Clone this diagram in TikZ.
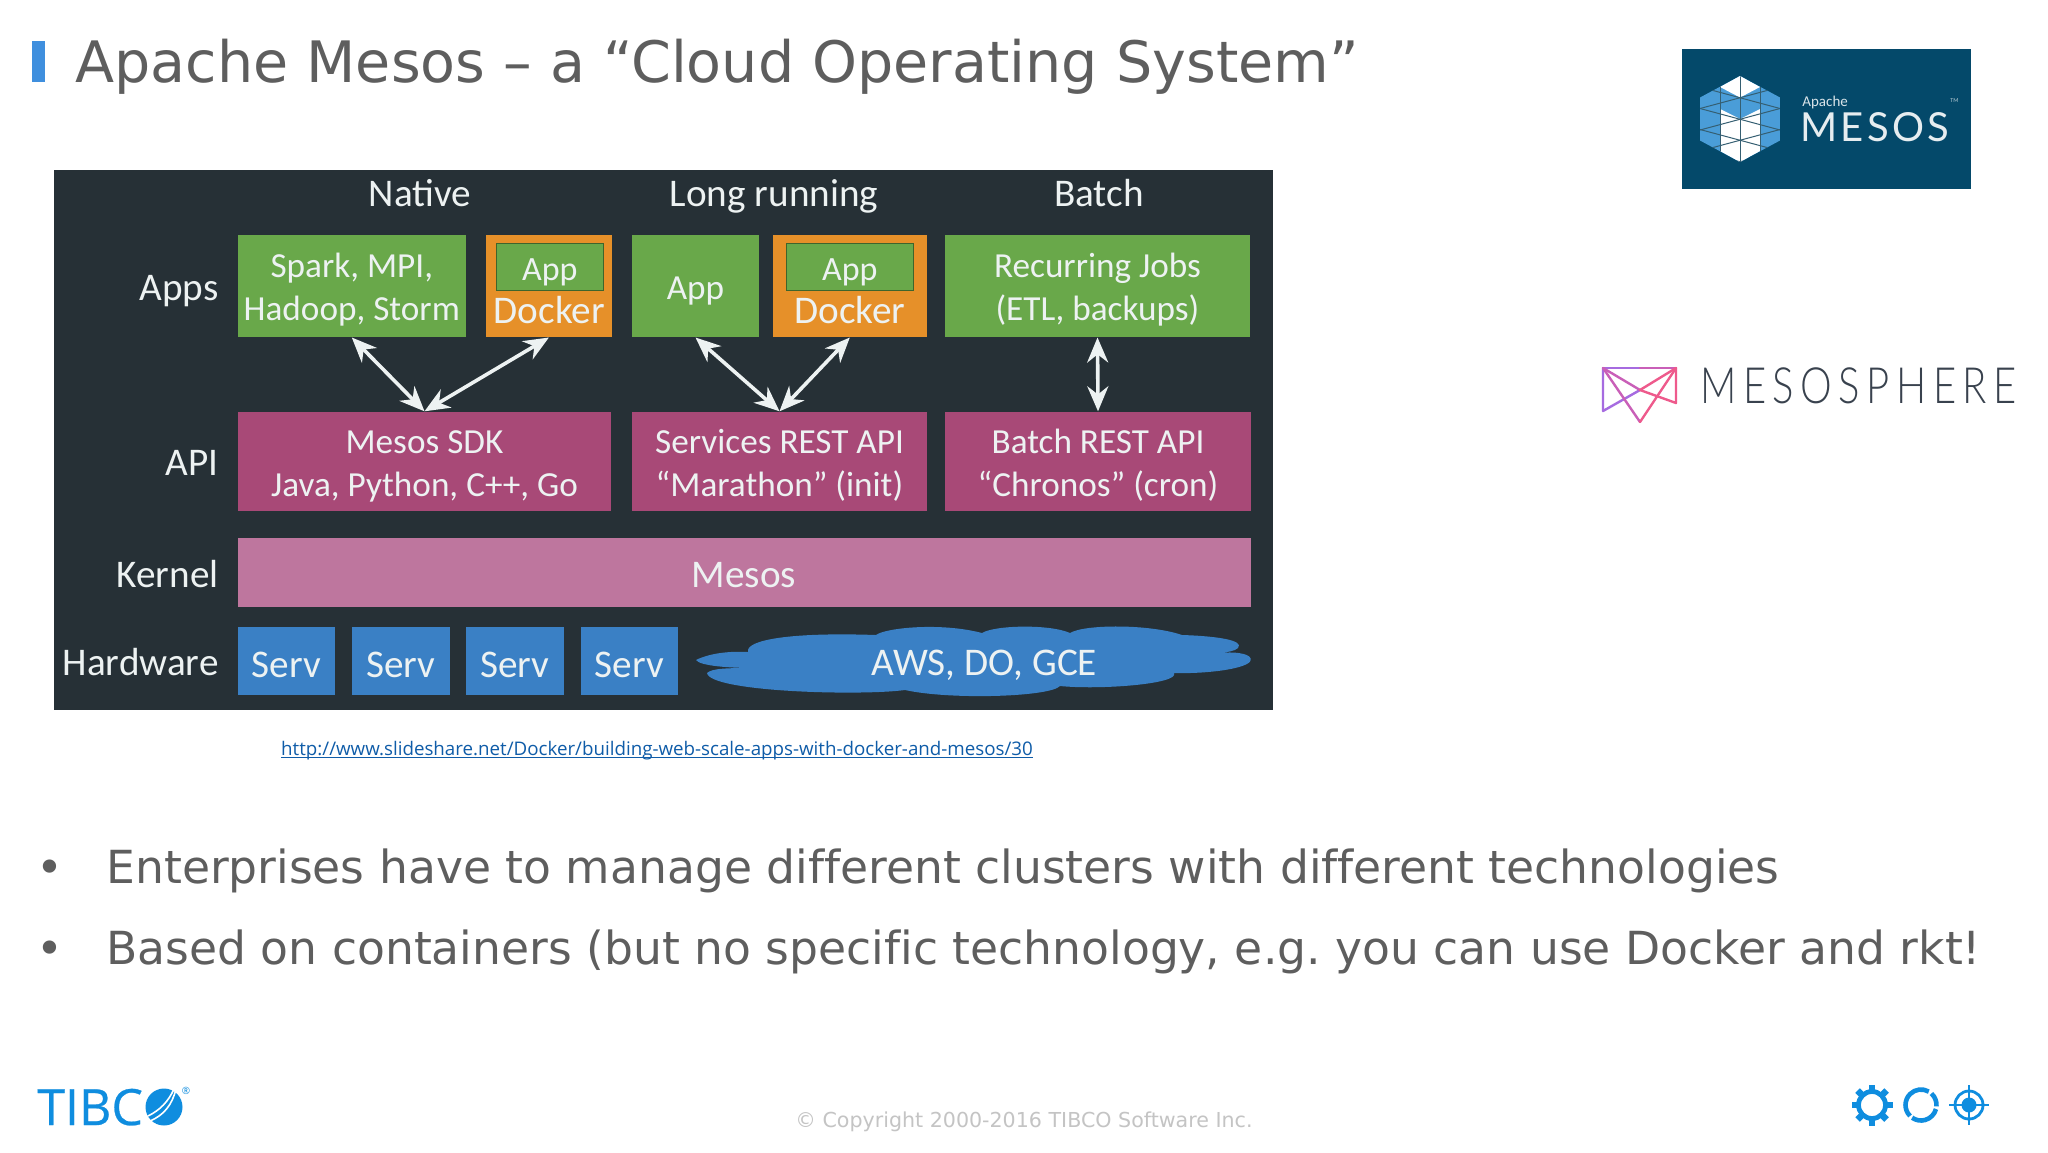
\documentclass[tikz,border=0pt]{standalone}
\usepackage{fontspec}
\setmainfont{Carlito}
\newfontfamily\slidefont{DejaVu Sans}[Ligatures=NoCommon]
\newfontfamily\linkfont{Open Sans}
\newfontfamily\tibcofont{Open Sans}[FakeBold=0.5]
\newfontfamily\logofont{Lato}[LetterSpace=8]
\newfontfamily\mesofont{Lato}[UprightFont={* Light},LetterSpace=13,FakeStretch=0.8]
\usetikzlibrary{arrows.meta}

\definecolor{panel}{HTML}{263036}
\definecolor{appgreen}{HTML}{69A84A}
\definecolor{dockorange}{HTML}{E69029}
\definecolor{apipink}{HTML}{A84977}
\definecolor{kernelpink}{HTML}{BE769E}
\definecolor{servblue}{HTML}{3A80C5}
\definecolor{boxtext}{HTML}{EDF2F2}
\definecolor{slidegray}{HTML}{5E5E5E}
\definecolor{tibcoblue}{HTML}{0F8DDF}
\definecolor{barblue}{HTML}{3F8FDE}
\definecolor{linkblue}{HTML}{0F5CA8}
\definecolor{logobg}{HTML}{04496A}
\definecolor{hexblue}{HTML}{4A9DD8}
\definecolor{meshleft}{HTML}{A66BE0}
\definecolor{meshmid}{HTML}{C95FB8}
\definecolor{meshright}{HTML}{EE5A8C}
\definecolor{meshtext}{HTML}{39424E}

\newcommand{\boxstrut}{\rule{0pt}{16.3pt}}

\begin{document}
\begin{tikzpicture}[
  x=0.5pt, y=-0.5pt,
  box/.style={inner sep=0pt, text=boxtext, align=center, font=\fontsize{17.6}{21.5}\selectfont},
  bigbox/.style={box, font=\fontsize{19.6}{21.5}\selectfont},
  appbox/.style={box, fill=appgreen, minimum height=51.2pt},
  dockbox/.style={box, fill=dockorange, minimum height=51.2pt},
  innerbox/.style={box, fill=appgreen, draw=appgreen!60!black, line width=0.4pt, minimum height=23.5pt, font=\fontsize{17}{21}\selectfont},
  apibox/.style={box, fill=apipink, minimum height=49.6pt},
  servbox/.style={bigbox, fill=servblue, minimum width=48.8pt, minimum height=34pt},
  rowlabel/.style={anchor=base east, inner sep=0pt, text=boxtext, font=\fontsize{19.6}{24}\selectfont},
  colhead/.style={anchor=base, inner sep=0pt, text=boxtext, font=\fontsize{19.6}{24}\selectfont},
  bulletline/.style={anchor=base west, inner sep=0pt, text=slidegray, font=\slidefont\fontsize{22.8}{28}\selectfont},
  updown/.style={<->, >={Stealth[length=12.5pt, width=10.5pt]}, draw=boxtext, line width=1.8pt},
  meshline/.style={line width=1.2pt, line cap=round, line join=round}
]

\useasboundingbox (0,0) rectangle (2048,1152);
\fill[white] (0,0) rectangle (2048,1152);

%% TITLE
\fill[barblue] (32,41) rectangle (44.5,82);
\node[anchor=base west, inner sep=0pt, text=slidegray, font=\slidefont\fontsize{28.56}{36}\selectfont] (title) at (75,82) {Apache Mesos – a “Cloud Operating System”};

%% PANEL
\fill[panel] (53.5,170) rectangle (1273,710);

% Column heads
\node[colhead] (native) at (420,206.5) {Native};
\node[colhead] (longrun) at (774,206.5) {Long running};
\node[colhead] (batchhead) at (1099,206.5) {Batch};

% Row labels
\node[rowlabel] (apps) at (219,300) {Apps};
\node[rowlabel] (api) at (219,475) {API};
\node[rowlabel] (kernel) at (219,587) {Kernel};
\node[rowlabel] (hardware) at (219,675) {Hardware};

% Apps
\node[appbox, minimum width=114.2pt] (spark) at (351.8,285.9) {\boxstrut Spark, MPI,\\Hadoop, Storm};
\node[dockbox, minimum width=63.2pt] (dockone) at (548.9,285.9) {};
\node[innerbox, minimum width=53.9pt] (appone) at (549.9,266.5) {\boxstrut App};
\node[bigbox, anchor=base] (dockonetext) at (549.4,323) {Docker};
\node[appbox, minimum width=63.5pt] (apptwo) at (695.5,285.9) {\boxstrut App};
\node[dockbox, minimum width=76.8pt] (docktwo) at (849.8,285.9) {};
\node[innerbox, minimum width=63.8pt] (appthree) at (849.8,266.5) {\boxstrut App};
\node[bigbox, anchor=base] (docktwotext) at (849.8,323) {Docker};
\node[appbox, minimum width=152.5pt] (recurring) at (1097.5,285.9) {\boxstrut Recurring Jobs\\(ETL, backups)};

% API
\node[apibox, minimum width=186.9pt] (sdk) at (424.5,461.3) {\boxstrut Mesos SDK\\Java, Python, C++, Go};
\node[apibox, minimum width=147.5pt] (services) at (779.5,461.3) {\boxstrut Services REST API\\“Marathon” (init)};
\node[apibox, minimum width=153pt] (batchapi) at (1098,461.3) {\boxstrut Batch REST API\\“Chronos” (cron)};

% Kernel
\node[bigbox, fill=kernelpink, minimum width=506.5pt, minimum height=34.5pt] (mesos) at (744,572.5) {\rule{0pt}{15.5pt}Mesos};

% Hardware
\foreach \i/\x in {1/286.3, 2/401, 3/514.8, 4/629.5}
  \node[servbox] (serv\i) at (\x,661) {\boxstrut Serv};

\fill[servblue] (696,660)
  .. controls (710,653) and (730,651) .. (748,652)
  .. controls (745,640) and (790,632) .. (876,635)
  .. controls (885,628) and (940,622) .. (982,633)
  .. controls (995,625) and (1050,624) .. (1070,633)
  .. controls (1085,624) and (1150,624) .. (1182,635)
  .. controls (1215,636) and (1245,640) .. (1238,648)
  .. controls (1235,651) and (1228,652) .. (1219,653)
  .. controls (1240,651) and (1252,655) .. (1250.6,660)
  .. controls (1250,668) and (1210,674) .. (1174,673)
  .. controls (1180,684) and (1100,690) .. (1060,686)
  .. controls (1050,697) and (950,700) .. (905,690)
  .. controls (860,696) and (710,692) .. (707,673)
  .. controls (712,668) and (730,668) .. (754,668)
  .. controls (730,668) and (700,666) .. (696,660) -- cycle;
\node[bigbox] (cloud) at (984.5,662) {\boxstrut AWS, DO, GCE};

% Arrows
\draw[updown] (spark.south) -- (sdk.north);
\draw[updown] (dockone.south) -- (sdk.north);
\draw[updown] (apptwo.south) -- (services.north);
\draw[updown] (docktwo.south) -- (services.north);
\draw[updown] (recurring.south) -- (batchapi.north);

%% LINK
\node[anchor=base, inner sep=0pt, text=linkblue, font=\linkfont\fontsize{9.37}{12}\selectfont] (link) at (657,755) {\underline{\smash{http://www.slideshare.net/Docker/building-web-scale-apps-with-docker-and-mesos/30}}};

%% BULLETS
\node[bulletline, anchor=base] (dotone) at (50,883) {•};
\node[bulletline] (lineone) at (106,883) {Enterprises have to manage different clusters with different technologies};
\node[bulletline, anchor=base] (dottwo) at (50,964) {•};
\node[bulletline] (linetwo) at (106,964) {Based on containers (but no specific technology, e.g.\ you can use Docker and rkt!};

%% MESOS LOGO
\fill[logobg] (1682,49) rectangle (1971,189);
\begin{scope}[shift={(1740,119)}]
  \clip (0,-43) -- (40,-21.5) -- (40,21.5) -- (0,43) -- (-40,21.5) -- (-40,-21.5) -- cycle;
  \fill[hexblue] (-40,-43) rectangle (40,43);
  \fill[white] (0,-43) -- (20,-32) -- (0,-21.5) -- (-20,-32) -- cycle;
  \fill[white] (-20,-10) -- (0,0) -- (20,-10) -- (20,32) -- (0,43) -- (-20,32) -- cycle;
  \foreach \x in {-20,0,20}
    \draw[logobg!60!gray, line width=0.5pt] (\x,-43) -- (\x,43);
  \foreach \y in {-32,-10.5,10.5,32}
    \draw[logobg!60!gray, line width=0.5pt] (-40,\y) -- (40,\y+21.5);
  \foreach \y in {-32,-10.5,10.5,32}
    \draw[logobg!60!gray, line width=0.5pt] (-40,\y+21.5) -- (40,\y);
\end{scope}
\node[anchor=base west, inner sep=0pt, text=white!85!logobg, font=\fontsize{7.5}{9}\selectfont] (apache) at (1802,106) {Apache};
\node[anchor=base west, inner sep=0pt, text=white!90!logobg, font=\logofont\fontsize{20}{24}\selectfont] (mesoslogo) at (1800,141) {MESOS};
\node[anchor=base west, inner sep=0pt, text=white!70!logobg, font=\fontsize{3}{4}\selectfont] (tmark) at (1950,102) {TM};

%% MESOSPHERE LOGO
\draw[meshline, draw=meshleft] (1603,368) -- (1640,368);
\draw[meshline, draw=meshmid] (1640,368) -- (1676,368);
\draw[meshline, draw=meshleft] (1603,368) -- (1603,411) -- (1640,390);
\draw[meshline, draw=meshmid] (1603,368) -- (1640,422);
\draw[meshline, draw=meshright] (1640,422) -- (1676,368);
\draw[meshline, draw=meshmid] (1603,368) -- (1640,390);
\draw[meshline, draw=meshright] (1640,390) -- (1676,403) -- (1676,368);
\draw[meshline, draw=meshright] (1640,390) -- (1676,368);
\node[anchor=base west, inner sep=0pt, text=meshtext, font=\mesofont\fontsize{25}{30}\selectfont] (mesosphere) at (1700,403) {MESOSPHERE};

%% FOOTER
\node[anchor=base west, inner sep=0pt, text=tibcoblue, font=\tibcofont\fontsize{25}{30}\selectfont] (tibco) at (37,1125) {TIBC};
\fill[tibcoblue] (164,1107) circle (18.5);
\draw[white, line width=0.8pt] (148,1116) .. controls (160,1110) and (168,1102) .. (174,1089);
\draw[white, line width=0.8pt] (150,1121) .. controls (164,1115) and (172,1105) .. (176,1089);
\node[inner sep=0pt, text=tibcoblue, font=\linkfont\fontsize{5}{6}\selectfont] (regmark) at (186,1091) {®};
\node[anchor=base, inner sep=0pt, text=black!23, font=\slidefont\fontsize{10.3}{13}\selectfont] (copyright) at (1024,1127) {© Copyright 2000-2016 TIBCO Software Inc.};

% Icons
\draw[tibcoblue, line width=2.4pt] (1872,1105) circle (13.5);
\foreach \a in {0,45,...,315}
  \draw[tibcoblue, line width=3.2pt] (1872,1105) ++(\a:14) -- ++(\a:6.5);
\draw[tibcoblue, line width=2.3pt] (1921,1105) ++(15:15.5) arc (15:125:15.5);
\draw[tibcoblue, line width=2.3pt] (1921,1105) ++(135:15.5) arc (135:300:15.5);
\draw[tibcoblue, line width=2.3pt] (1921,1105) ++(-48:15.5) arc (-48:5:15.5);
\fill[tibcoblue] (1969,1105) circle (7.5);
\draw[tibcoblue, line width=1.4pt] (1969,1105) circle (14);
\draw[tibcoblue, line width=1.4pt] (1949,1105) -- (1989,1105);
\draw[tibcoblue, line width=1.4pt] (1969,1085) -- (1969,1125);

\end{tikzpicture}
\end{document}
